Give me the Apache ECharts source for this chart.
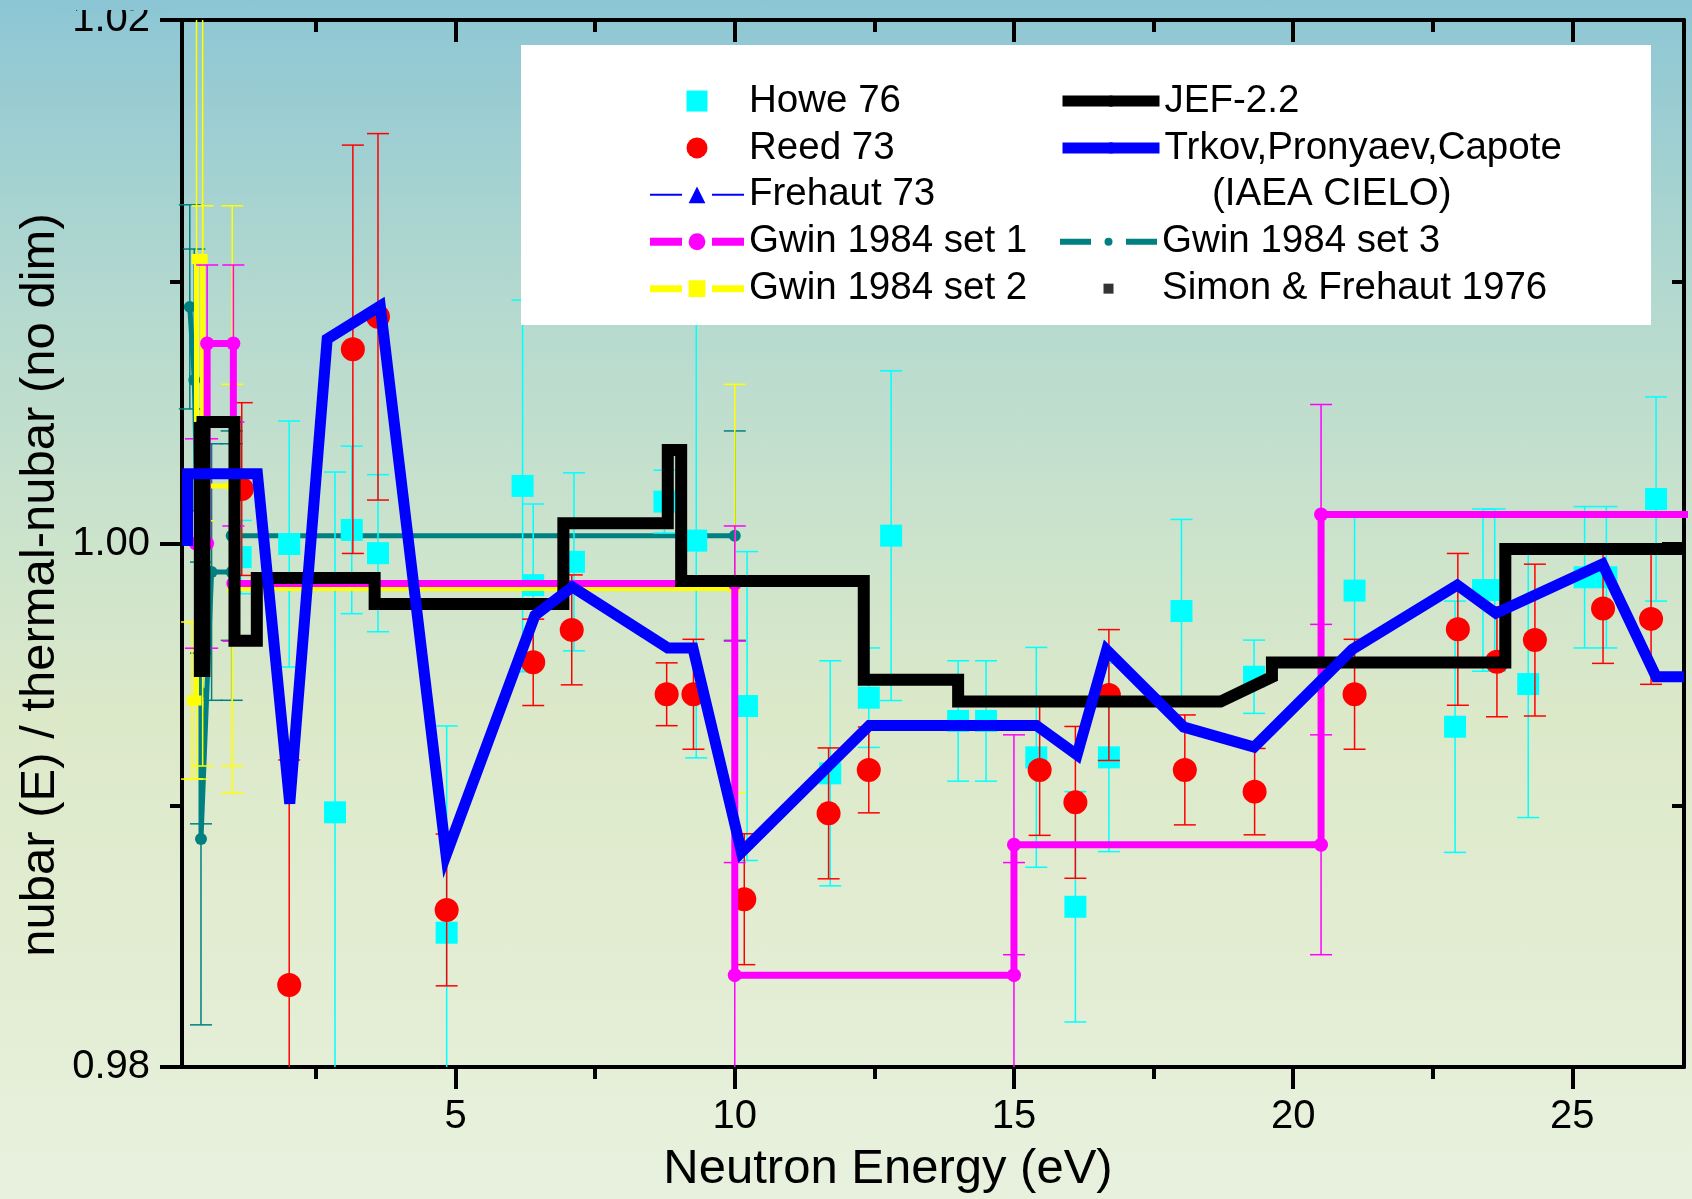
<!DOCTYPE html>
<html>
<head>
<meta charset="utf-8">
<title>nubar(E) / thermal nubar</title>
<script src="https://cdn.jsdelivr.net/npm/echarts@6/dist/echarts.min.js"></script>
<style>
  html, body { margin: 0; padding: 0; }
  #chart {
    width: 1692px;
    height: 1199px;
    background: linear-gradient(to bottom, #8cc6d4 0%, #b4d9cf 25%, #cce3cc 45%, #dce9c9 60%, #e1ecd0 75%, #e8f1de 100%);
  }
</style>
</head>
<body>
<div id="chart"></div>
<script>
const FONT = '"Liberation Sans", Arial, sans-serif';

// axis ticks
const xMajorTicks = [5, 10, 15, 20, 25];
const xMinorTicks = [2.5, 7.5, 12.5, 17.5, 22.5];
const yMajorTicks = [0.98, 1.0, 1.02];
const yMinorTicks = [0.99, 1.01];

// measurements: [E (eV), ratio, error]
const howe76 = [
  [1.15, 0.99948, 0.0014], [2.02, 0.99998, 0.0047], [2.84, 0.98973, 0.0130],
  [3.14, 1.00052, 0.0032], [3.61, 0.99963, 0.0030], [4.84, 0.98513, 0.0079],
  [6.20, 1.00220, 0.0071], [6.39, 0.99841, 0.0031], [7.12, 0.99930, 0.0034],
  [8.74, 1.00160, 0.0012], [9.31, 1.00011, 0.0083], [10.22, 0.99379, 0.0059],
  [11.71, 0.99122, 0.0043], [12.40, 0.99411, 0.0019], [12.80, 1.00030, 0.0063],
  [14.00, 0.99322, 0.0023], [14.50, 0.99322, 0.0023], [15.40, 0.99183, 0.0042],
  [16.10, 0.98612, 0.0044], [16.70, 0.99183, 0.0036], [18.00, 0.99742, 0.0035],
  [19.30, 0.99491, 0.0014], [21.10, 0.99820, 0.0028], [22.90, 0.99300, 0.0048],
  [23.40, 0.99822, 0.0031], [23.61, 0.99822, 0.0031], [24.21, 0.99463, 0.0051],
  [25.22, 0.99871, 0.0027], [25.61, 0.99871, 0.0027], [26.50, 1.00170, 0.0039]
];
const reed73 = [
  [1.17, 1.00208, 0.0033], [2.02, 0.98313, 0.0086], [3.16, 1.00742, 0.0078],
  [3.61, 1.00866, 0.0070], [4.84, 0.98600, 0.0029], [6.39, 0.99546, 0.00165],
  [7.08, 0.99670, 0.0021], [8.78, 0.99424, 0.0012], [9.26, 0.99424, 0.0021],
  [10.17, 0.98641, 0.0025], [11.68, 0.98969, 0.0025], [12.40, 0.99135, 0.00164],
  [15.46, 0.99135, 0.0025], [16.10, 0.99011, 0.0029], [16.70, 0.99421, 0.0025],
  [18.06, 0.99135, 0.0021], [19.31, 0.99052, 0.00165], [21.10, 0.99424, 0.0021],
  [22.95, 0.99672, 0.0029], [23.65, 0.99548, 0.0021], [24.33, 0.99631, 0.0029],
  [25.55, 0.99752, 0.0021], [26.41, 0.99712, 0.0025]
];
const frehaut73 = [];
const simonFrehaut1976 = [];

// Gwin 1984 histograms, both bin edges: [E, ratio, error]
const gwinSet1 = [
  [0.35, 1.00000, 0.0040], [0.55, 1.00000, 0.0040], [0.55, 1.00764, 0.0030],
  [1.02, 1.00764, 0.0030], [1.02, 0.99847, 0.0022], [10.0, 0.99847, 0.0022],
  [10.0, 0.98351, 0.0043], [15.0, 0.98351, 0.0043], [15.0, 0.98849, 0.0042],
  [20.5, 0.98849, 0.0042], [20.5, 1.00111, 0.0042], [27.3, 1.00111, 0.0042]
];
const gwinSet2 = [
  [0.28, 0.99400, 0.0030], [0.36, 0.99400, 0.0030], [0.36, 1.01087, 0.0100],
  [0.47, 1.01087, 0.0100], [0.47, 1.00220, 0.0107], [1.00, 1.00220, 0.0107],
  [1.00, 0.99828, 0.0078], [10.0, 0.99828, 0.0078]
];
const gwinSet3 = [
  [0.24, 1.00904, 0.0039], [0.32, 1.00625, 0.0050], [0.44, 0.99429, 0.0050],
  [0.44, 0.98871, 0.0071], [0.63, 0.99891, 0.0049], [0.99, 0.99891, 0.0049],
  [0.99, 1.00030, 0.0040], [10.0, 1.00030, 0.0040]
];

// evaluations: [E, ratio]
const jef22 = [
  [0.36, 1.00464], [0.42, 1.00464], [0.42, 0.99513], [0.50, 0.99513], [0.50, 1.00464],
  [1.04, 1.00464], [1.04, 0.99628], [1.44, 0.99628], [1.44, 0.99868], [3.55, 0.99868],
  [3.55, 0.99769], [6.93, 0.99769], [6.93, 1.00077], [8.80, 1.00077], [8.80, 1.00357],
  [9.04, 1.00357], [9.04, 0.99857], [12.31, 0.99857], [12.31, 0.99479], [14.0, 0.99479],
  [14.0, 0.99396], [18.70, 0.99396], [19.62, 0.99490], [19.62, 0.99545], [23.80, 0.99545],
  [23.80, 0.99979], [27.0, 0.99979]
];
const trkovCielo = [
  [0.20, 0.99990], [0.20, 1.00266], [1.45, 1.00266], [2.03, 0.99006], [2.70, 1.00781],
  [3.65, 1.00907], [4.83, 0.98810], [6.42, 0.99725], [7.09, 0.99834], [8.80, 0.99601],
  [9.25, 0.99601], [10.12, 0.98821], [12.41, 0.99305], [15.40, 0.99305], [16.13, 0.99192],
  [16.66, 0.99593], [18.04, 0.99299], [19.30, 0.99222], [21.06, 0.99596], [22.94, 0.99841],
  [23.63, 0.99734], [25.54, 0.99922], [26.50, 0.99491], [27.0, 0.99491]
];

// vertical error bars with caps, clipped to the plot box
function errorBars(data, color, z) {
  return {
    type: 'custom',
    xAxisIndex: 0,
    yAxisIndex: 0,
    z: z,
    silent: true,
    data: data,
    encode: { x: 0, y: 1 },
    renderItem: function (params, api) {
      const x = api.value(0), y = api.value(1), e = api.value(2);
      const cs = params.coordSys;
      const top = api.coord([x, y + e]);
      const bot = api.coord([x, y - e]);
      const px = top[0];
      if (px < cs.x || px > cs.x + cs.width) return;
      const yMin = cs.y, yMax = cs.y + cs.height;
      const style = { stroke: color, lineWidth: 1.5 };
      const children = [{
        type: 'line',
        shape: { x1: px, y1: Math.max(top[1], yMin), x2: px, y2: Math.min(bot[1], yMax) },
        style: style
      }];
      if (top[1] >= yMin) children.push({ type: 'line', shape: { x1: px - 11, y1: top[1], x2: px + 11, y2: top[1] }, style: style });
      if (bot[1] <= yMax) children.push({ type: 'line', shape: { x1: px - 11, y1: bot[1], x2: px + 11, y2: bot[1] }, style: style });
      return { type: 'group', children: children };
    }
  };
}

function xAxis(position, ticks, length, inside, showLine, showLabel) {
  const ax = {
    type: 'value',
    position: position,
    min: 0.1,
    max: 27,
    axisLine: { show: showLine, onZero: false, lineStyle: { color: '#000', width: 4 } },
    axisTick: { show: true, customValues: ticks, length: length, inside: inside, lineStyle: { color: '#000', width: 4 } },
    axisLabel: { show: showLabel, customValues: ticks, color: '#000', fontSize: 40, fontFamily: FONT, margin: 30 },
    splitLine: { show: false }
  };
  if (showLabel) {
    ax.name = 'Neutron Energy (eV)';
    ax.nameLocation = 'middle';
    ax.nameGap = 78;
    ax.nameMoveOverlap = false;
    ax.nameTextStyle = { fontSize: 49, fontFamily: FONT, color: '#000', padding: [0, 90, 0, 0] };
  }
  return ax;
}

function yAxis(position, ticks, length, inside, showLine, showLabel) {
  const ax = {
    type: 'value',
    position: position,
    min: 0.98,
    max: 1.02,
    axisLine: { show: showLine, onZero: false, lineStyle: { color: '#000', width: 4 } },
    axisTick: { show: true, customValues: ticks, length: length, inside: inside, lineStyle: { color: '#000', width: 4 } },
    axisLabel: {
      show: showLabel, customValues: ticks, color: '#000', fontSize: 40, fontFamily: FONT, margin: 32,
      padding: [0, 0, 8, 0],
      formatter: (v) => v.toFixed(2)
    },
    splitLine: { show: false }
  };
  if (showLabel) {
    ax.name = 'nubar (E) / thermal-nubar (no dim)';
    ax.nameLocation = 'middle';
    ax.nameGap = 117;
    ax.nameMoveOverlap = false;
    ax.nameTextStyle = { fontSize: 49, fontFamily: FONT, color: '#000', padding: [0, 83, 0, 0] };
  }
  return ax;
}

// square legend marker that keeps its aspect
const SQUARE = 'path://M0,0H10V10H0Z';
const LEGEND_TOP = 77.6;
const ROW = 46.9;

const legendText = { fontSize: 38.5, lineHeight: ROW, color: '#000', fontFamily: FONT };
const legendBase = {
  orient: 'vertical', padding: 0, itemGap: 0, selectedMode: false, z: 21,
  symbolKeepAspect: true, textStyle: legendText
};

const option = {
  backgroundColor: 'transparent',
  animation: false,
  grid: { left: 182, top: 20, width: 1502, height: 1047, containLabel: false, outerBoundsMode: 'none' },
  xAxis: [
    xAxis('bottom', xMajorTicks, 22, false, true, true),
    xAxis('bottom', xMinorTicks, 12, false, false, false),
    xAxis('top', xMajorTicks, 22, true, true, false),
    xAxis('top', xMinorTicks, 12, true, false, false)
  ],
  yAxis: [
    yAxis('left', yMajorTicks, 22, false, true, true),
    yAxis('left', yMinorTicks, 12, false, false, false),
    yAxis('right', yMajorTicks, 22, true, true, false),
    yAxis('right', yMinorTicks, 12, true, false, false)
  ],
  legend: [
    Object.assign({}, legendBase, {
      data: [{ name: 'Howe 76', icon: SQUARE }, 'Reed 73', 'Frehaut 73',
        { name: 'Gwin 1984 set 1', lineStyle: { width: 8 } },
        { name: 'Gwin 1984 set 2', lineStyle: { width: 7 } }],
      left: 646, top: LEGEND_TOP, itemWidth: 94, itemHeight: 21,
      lineStyle: { type: [32, 30] }
    }),
    Object.assign({}, legendBase, {
      data: ['JEF-2.2', 'Trkov,Pronyaev,Capote'],
      left: 1057, top: LEGEND_TOP, itemWidth: 97, itemHeight: 14,
      lineStyle: { width: 11 }
    }),
    Object.assign({}, legendBase, {
      data: ['Gwin 1984 set 3', { name: 'Simon & Frehaut 1976', icon: SQUARE }],
      left: 1057, top: LEGEND_TOP + 3 * ROW, itemWidth: 97, itemHeight: 10,
      lineStyle: { type: [31, 35], width: 6 }
    })
  ],
  graphic: [
    { type: 'rect', shape: { x: 521, y: 45, width: 1130, height: 280 }, style: { fill: '#ffffff' }, z: 20, silent: true },
    {
      type: 'text', x: 1212, y: LEGEND_TOP + ROW / 2 + 2 * ROW, z: 21, silent: true,
      style: { text: '(IAEA CIELO)', fontSize: 38.5, fontFamily: FONT, fill: '#000', verticalAlign: 'middle' }
    },
    // the top of the "1.02" label is cut off in the original figure
    { type: 'rect', shape: { x: 50, y: 0, width: 125, height: 10 }, style: { fill: '#8cc6d4' }, z: 20, silent: true }
  ],
  series: [
    errorBars(gwinSet3, '#008080', 2),
    {
      type: 'line', name: 'Gwin 1984 set 3', data: gwinSet3, z: 3,
      symbol: 'circle', symbolSize: 12,
      itemStyle: { color: '#008080' },
      lineStyle: { color: '#008080', width: 5, join: 'miter' }
    },
    errorBars(howe76, '#00ffff', 4),
    {
      type: 'scatter', name: 'Howe 76', data: howe76, z: 5,
      symbol: 'rect', symbolSize: 22, itemStyle: { color: '#00ffff', opacity: 1 }
    },
    errorBars(reed73, '#ff0000', 6),
    {
      type: 'scatter', name: 'Reed 73', data: reed73, z: 7,
      symbol: 'circle', symbolSize: 24, itemStyle: { color: '#ff0000', opacity: 1 }
    },
    errorBars(gwinSet2, '#ffff00', 8),
    {
      type: 'line', name: 'Gwin 1984 set 2', data: gwinSet2, z: 9,
      symbol: 'rect', symbolSize: 10,
      itemStyle: { color: '#ffff00' },
      lineStyle: { color: '#ffff00', width: 5, join: 'miter' }
    },
    errorBars(gwinSet1, '#ff00ff', 10),
    {
      type: 'line', name: 'Gwin 1984 set 1', data: gwinSet1, z: 11,
      symbol: 'circle', symbolSize: 14,
      itemStyle: { color: '#ff00ff' },
      lineStyle: { color: '#ff00ff', width: 7, join: 'miter' }
    },
    {
      type: 'line', name: 'Frehaut 73', data: frehaut73, z: 11,
      symbol: 'triangle', symbolSize: 20,
      itemStyle: { color: '#0000ff' },
      lineStyle: { color: '#0000ff', width: 1.5 }
    },
    {
      type: 'line', name: 'JEF-2.2', data: jef22, z: 12,
      symbol: 'none',
      itemStyle: { color: '#000000' },
      lineStyle: { color: '#000000', width: 12, join: 'miter', cap: 'butt' }
    },
    {
      type: 'line', name: 'Trkov,Pronyaev,Capote', data: trkovCielo, z: 13,
      symbol: 'none',
      itemStyle: { color: '#0000ff' },
      lineStyle: { color: '#0000ff', width: 11, join: 'miter', miterLimit: 10, cap: 'butt' }
    },
    {
      type: 'scatter', name: 'Simon & Frehaut 1976', data: simonFrehaut1976, z: 13,
      symbol: 'rect', symbolSize: 8, itemStyle: { color: '#000000' }
    }
  ]
};

const chart = echarts.init(document.getElementById('chart'), null, { renderer: 'canvas' });
chart.setOption(option);
</script>
</body>
</html>
